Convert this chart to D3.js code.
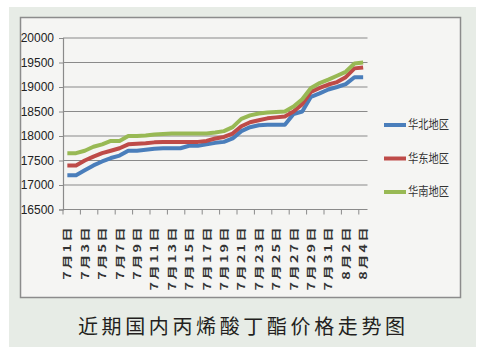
<!DOCTYPE html>
<html>
<head>
<meta charset="utf-8">
<script src="https://cdn.jsdelivr.net/npm/d3@7"></script>
<style>
  html, body { margin: 0; padding: 0; background: #ffffff; }
  #chart { width: 483px; height: 354px; }
</style>
</head>
<body>
<div id="chart"></div>
<script>
// 日期（7月1日 ~ 8月4日）
const dates = [];
for (let d = 1; d <= 31; d++) dates.push(`7月${d}日`);
for (let d = 1; d <= 4; d++) dates.push(`8月${d}日`);

// 三个地区价格（元/吨）
const northPrices = [17200, 17200, 17300, 17400, 17480, 17550, 17600, 17700, 17700, 17720,
    17740, 17750, 17750, 17750, 17800, 17800, 17830, 17860, 17880, 17950,
    18100, 18180, 18220, 18230, 18230, 18230, 18450, 18500, 18800, 18870,
    18950, 19000, 19060, 19200, 19200];
const eastPrices = [17400, 17400, 17500, 17580, 17650, 17700, 17750, 17830, 17840, 17850,
    17870, 17880, 17880, 17880, 17880, 17880, 17900, 17950, 17980, 18050,
    18200, 18280, 18320, 18360, 18380, 18400, 18500, 18650, 18900, 18980,
    19050, 19100, 19200, 19380, 19400];
const southPrices = [17650, 17650, 17700, 17780, 17830, 17900, 17900, 18000, 18000, 18010,
    18030, 18040, 18050, 18050, 18050, 18050, 18050, 18070, 18100, 18180,
    18350, 18420, 18460, 18480, 18490, 18500, 18600, 18750, 18980, 19080,
    19150, 19230, 19310, 19480, 19500];

const seriesNames = ['华北地区', '华东地区', '华南地区'];
const yTicks = [16500, 17000, 17500, 18000, 18500, 19000, 19500, 20000];
const chartTitle = '近期国内丙烯酸丁酯价格走势图';

const series = [
    { name: seriesNames[0], values: northPrices, color: '#4a7ebb' },
    { name: seriesNames[1], values: eastPrices, color: '#be4b48' },
    { name: seriesNames[2], values: southPrices, color: '#98b954' }
];

const width = 483, height = 354;
const svg = d3.select('#chart').append('svg')
    .attr('width', width)
    .attr('height', height);

// 背景
svg.append('rect')
    .attr('x', 9).attr('y', 7)
    .attr('width', 467).attr('height', 340)
    .attr('fill', '#e7ece6');

svg.append('rect')
    .attr('x', 20.5).attr('y', 17.5)
    .attr('width', 440).attr('height', 280)
    .attr('fill', '#f5f5f3')
    .attr('stroke', '#8c8c8c')
    .attr('stroke-width', 1.5);

// 比例尺
const x = d3.scaleBand()
    .domain(dates)
    .range([63, 367.5]);

const y = d3.scaleLinear()
    .domain([16500, 20000])
    .range([209.5, 38]);

// 网格线
svg.append('g')
    .selectAll('line')
    .data(yTicks.slice(1))
    .join('line')
    .attr('x1', 63)
    .attr('x2', 367.5)
    .attr('y1', d => y(d))
    .attr('y2', d => y(d))
    .attr('stroke', '#8a8a8a')
    .attr('stroke-width', 1.2);

// y轴
const yAxis = svg.append('g')
    .attr('transform', 'translate(63,0)')
    .call(d3.axisLeft(y).tickValues(yTicks).tickSize(4).tickPadding(5).tickFormat(d3.format('d')));
yAxis.select('.domain').attr('stroke', '#8a8a8a').attr('stroke-width', 1.2);
yAxis.selectAll('.tick line').attr('stroke', '#8a8a8a');
yAxis.selectAll('text')
    .attr('fill', '#222')
    .style('font-family', '"Liberation Sans Narrow", "Arial Narrow", "Liberation Sans", sans-serif')
    .style('font-size', '12px');

// x轴
svg.append('line')
    .attr('x1', 63).attr('x2', 367.5)
    .attr('y1', y(16500)).attr('y2', y(16500))
    .attr('stroke', '#8a8a8a')
    .attr('stroke-width', 1.2);

const tickDates = dates.filter((d, i) => i % 2 === 0);
svg.append('g')
    .selectAll('line')
    .data(tickDates)
    .join('line')
    .attr('x1', d => x(d))
    .attr('x2', d => x(d))
    .attr('y1', y(16500))
    .attr('y2', y(16500) + 5)
    .attr('stroke', '#8a8a8a');

svg.append('g')
    .selectAll('text')
    .data(tickDates)
    .join('text')
    .attr('transform', d => `translate(${x(d) + x.bandwidth() / 2},225) rotate(-90) scale(1.45,1)`)
    .attr('text-anchor', 'end')
    .attr('dominant-baseline', 'central')
    .attr('fill', '#333')
    .style('font-family', '"Noto Sans CJK SC", sans-serif')
    .style('font-size', '10px')
    .style('font-weight', 'bold')
    .style('letter-spacing', '1.5px')
    .text(d => d);

// 折线
const line = d3.line()
    .x((d, i) => x(dates[i]) + x.bandwidth() / 2)
    .y(d => y(d));

svg.append('g')
    .selectAll('path')
    .data(series)
    .join('path')
    .attr('fill', 'none')
    .attr('stroke', d => d.color)
    .attr('stroke-width', 4)
    .attr('stroke-linejoin', 'round')
    .attr('d', d => line(d.values));

// 图例
const legend = svg.append('g')
    .selectAll('g')
    .data(series)
    .join('g')
    .attr('transform', (d, i) => `translate(384,${125 + i * 33.5})`);

legend.append('line')
    .attr('x1', 0).attr('x2', 22)
    .attr('stroke', d => d.color)
    .attr('stroke-width', 4);

legend.append('text')
    .attr('x', 24)
    .attr('dy', '0.35em')
    .attr('textLength', 41)
    .attr('lengthAdjust', 'spacingAndGlyphs')
    .attr('fill', '#333')
    .style('font-family', '"Noto Sans CJK SC", sans-serif')
    .style('font-size', '12px')
    .text(d => d.name);

// 标题
svg.append('text')
    .attr('x', 78)
    .attr('y', 334)
    .attr('textLength', 327)
    .attr('lengthAdjust', 'spacing')
    .attr('fill', '#231f20')
    .style('font-family', '"Noto Sans CJK SC", sans-serif')
    .style('font-size', '20px')
    .text(chartTitle);
</script>
</body>
</html>
